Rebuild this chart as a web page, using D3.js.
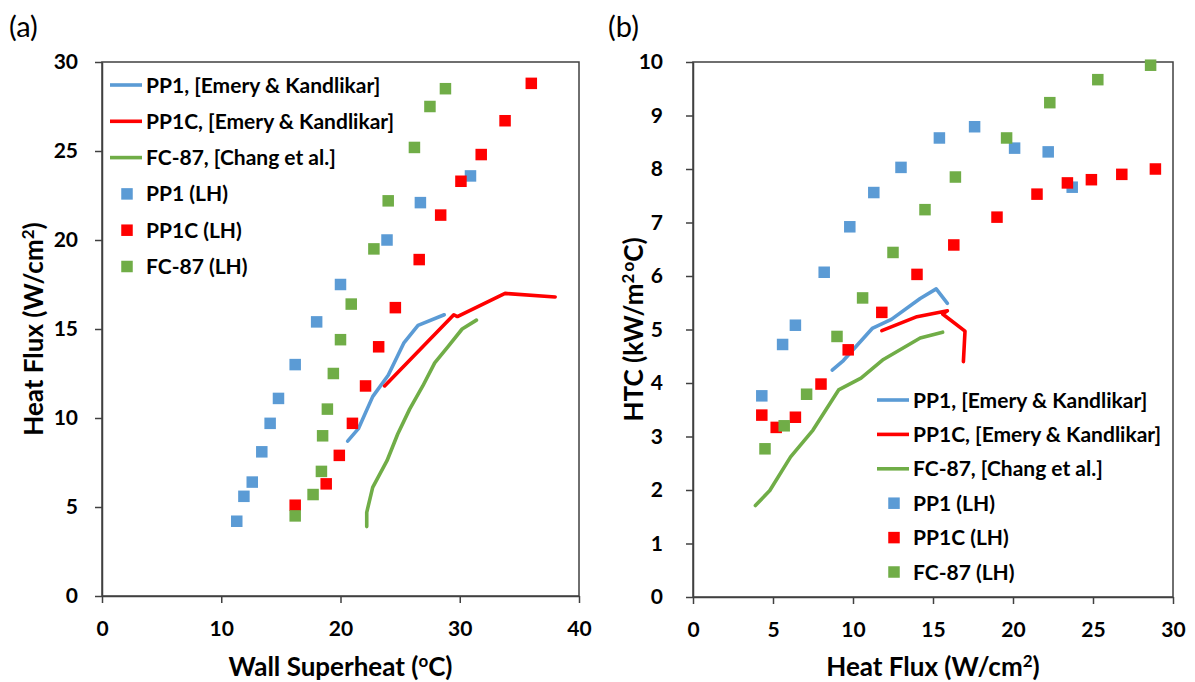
<!DOCTYPE html>
<html>
<head>
<meta charset="utf-8">
<script src="https://cdn.jsdelivr.net/npm/d3@7"></script>
<style>
  body { margin: 0; background: #fff; }
  text { font-family: Lato, "Open Sans", sans-serif; fill: #000; }
</style>
</head>
<body>
<svg id="chart" width="1195" height="682"></svg>
<script>
// ---- Panel (a): heat flux (W/cm2) vs wall superheat (°C) ----
const superheatTicks = [0, 10, 20, 30, 40];
const fluxTicksA = [0, 5, 10, 15, 20, 25, 30];

const pp1CorrA  = [[20.6,8.7],[21.5,9.4],[22.7,11.2],[24.0,12.4],[25.3,14.2],[26.5,15.2],[28.7,15.8]];
const pp1cCorrA = [[23.7,11.8],[29.5,15.8],[29.8,15.7],[33.8,17.0],[38.0,16.8]];
const fc87CorrA = [[22.2,3.9],[22.2,4.7],[22.7,6.1],[23.9,7.6],[24.8,9.1],[25.8,10.5],[26.9,11.8],[27.9,13.1],[29.0,14.0],[30.2,15.0],[31.4,15.5]];

const pp1LabA  = [[11.3,4.2],[11.9,5.6],[12.6,6.4],[13.4,8.1],[14.1,9.7],[14.8,11.1],[16.2,13.0],[18.0,15.4],[20.0,17.5],[23.9,20.0],[26.7,22.1],[30.9,23.6]];
const pp1cLabA = [[16.2,5.1],[18.8,6.3],[19.9,7.9],[21.0,9.7],[22.1,11.8],[23.2,14.0],[24.6,16.2],[26.6,18.9],[28.4,21.4],[30.1,23.3],[31.8,24.8],[33.8,26.7],[36.0,28.8]];
const fc87LabA = [[16.2,4.5],[17.7,5.7],[18.4,7.0],[18.5,9.0],[18.9,10.5],[19.4,12.5],[20.0,14.4],[20.9,16.4],[22.8,19.5],[24.0,22.2],[26.2,25.2],[27.5,27.5],[28.8,28.5]];

// ---- Panel (b): HTC (kW/m2°C) vs heat flux (W/cm2) ----
const fluxTicksB = [0, 5, 10, 15, 20, 25, 30];
const htcTicks = [0, 1, 2, 3, 4, 5, 6, 7, 8, 9, 10];

const pp1CorrB  = [[8.7,4.24],[9.4,4.42],[11.2,5.02],[12.4,5.19],[14.2,5.58],[15.2,5.76],[15.9,5.49]];
const pp1cCorrB = [[11.8,4.98],[14.0,5.24],[15.9,5.35],[15.6,5.29],[17.0,4.97],[16.9,4.40]];
const fc87CorrB = [[3.9,1.71],[4.8,1.99],[6.1,2.62],[7.5,3.12],[9.1,3.87],[10.5,4.09],[11.9,4.44],[14.2,4.84],[15.6,4.95]];

const pp1LabB  = [[4.3,3.76],[5.6,4.72],[6.4,5.08],[8.2,6.07],[9.8,6.92],[11.3,7.56],[13.0,8.03],[15.4,8.58],[17.6,8.79],[20.1,8.39],[22.2,8.32],[23.7,7.66]];
const pp1cLabB = [[4.3,3.40],[5.2,3.17],[6.4,3.36],[8.0,3.98],[9.7,4.62],[11.8,5.32],[14.0,6.03],[16.3,6.58],[19.0,7.10],[21.5,7.53],[23.4,7.74],[24.9,7.80],[26.8,7.90],[28.9,8.00]];
const fc87LabB = [[4.5,2.77],[5.7,3.20],[7.1,3.79],[9.0,4.87],[10.6,5.59],[12.5,6.44],[14.5,7.24],[16.4,7.85],[19.6,8.58],[22.3,9.24],[25.3,9.67],[28.6,9.94]];

// ---- Legend ----
const lineLabels   = ["PP1, [Emery & Kandlikar]", "PP1C, [Emery & Kandlikar]", "FC-87, [Chang et al.]"];
const markerLabels = ["PP1 (LH)", "PP1C (LH)", "FC-87 (LH)"];
const seriesColors = ["#5B9BD5", "#FF0000", "#70AD47"];

const svg = d3.select("#chart");

function drawPanel(opt) {
  const x = d3.scaleLinear().domain(opt.xDomain).range([opt.left, opt.right]);
  const y = d3.scaleLinear().domain(opt.yDomain).range([opt.bottom, opt.top]);
  const g = svg.append("g");

  // plot frame
  g.append("rect")
    .attr("x", opt.left).attr("y", opt.top)
    .attr("width", opt.right - opt.left).attr("height", opt.bottom - opt.top)
    .attr("fill", "none").attr("stroke", "#404040").attr("stroke-width", 1.5);

  const xAxis = g.append("g").attr("transform", `translate(0,${opt.bottom})`)
    .call(d3.axisBottom(x).tickValues(opt.xTicks).tickSize(7).tickSizeOuter(0).tickPadding(18));
  const yAxis = g.append("g").attr("transform", `translate(${opt.left},0)`)
    .call(d3.axisLeft(y).tickValues(opt.yTicks).tickSize(7).tickSizeOuter(0).tickPadding(opt.yPad));
  [xAxis, yAxis].forEach(a => {
    a.select(".domain").attr("stroke", "#404040").attr("stroke-width", 1.5);
    a.selectAll(".tick line").attr("stroke", "#404040").attr("stroke-width", 1.5);
    a.selectAll(".tick text").attr("font-size", 21).attr("font-weight", 700)
      .attr("font-family", "Lato, sans-serif").attr("fill", "#000");
  });

  const line = d3.line().x(d => x(d[0])).y(d => y(d[1]));
  opt.lines.forEach((data, i) => {
    g.append("path").datum(data).attr("d", line)
      .attr("fill", "none").attr("stroke", seriesColors[i])
      .attr("stroke-width", 3.6).attr("stroke-linejoin", "round").attr("stroke-linecap", "round");
  });
  const s = 11.5;
  opt.points.forEach((data, i) => {
    g.append("g").selectAll("rect").data(data).join("rect")
      .attr("x", d => x(d[0]) - s / 2).attr("y", d => y(d[1]) - s / 2)
      .attr("width", s).attr("height", s).attr("fill", seriesColors[i]);
  });

  // legend
  const lg = g.append("g").attr("transform", `translate(${opt.legendX},${opt.legendY})`);
  const step = opt.legendStep;
  lineLabels.forEach((t, i) => {
    lg.append("line").attr("x1", 0).attr("x2", 32).attr("y1", i * step).attr("y2", i * step)
      .attr("stroke", seriesColors[i]).attr("stroke-width", 3.6);
    lg.append("text").attr("x", 36).attr("y", i * step).attr("dy", "0.36em")
      .attr("font-size", 21).attr("font-weight", 700).text(t);
  });
  markerLabels.forEach((t, i) => {
    const yy = (i + 3) * step;
    lg.append("rect").attr("x", 17 - s / 2).attr("y", yy - s / 2).attr("width", s).attr("height", s)
      .attr("fill", seriesColors[i]);
    lg.append("text").attr("x", 36).attr("y", yy).attr("dy", "0.36em")
      .attr("font-size", 21).attr("font-weight", 700).text(t);
  });

  // axis titles
  const xt = g.append("text").attr("x", (opt.left + opt.right) / 2).attr("y", opt.xTitleY)
    .attr("text-anchor", "middle").attr("font-size", 26).attr("font-weight", 700);
  opt.xTitle(xt);
  const yt = g.append("text")
    .attr("transform", `translate(${opt.yTitleX},${(opt.top + opt.bottom) / 2}) rotate(-90)`)
    .attr("text-anchor", "middle").attr("font-size", 26).attr("font-weight", 700);
  opt.yTitle(yt);

  // panel tag
  g.append("text").attr("x", opt.tagX).attr("y", 37).attr("font-size", 29).text(opt.tag);
}

// raised small text for units (cm², °C)
function sup(sel, t, dx = 0) {
  sel.append("tspan").attr("dy", -9).attr("dx", dx).attr("font-size", 17).text(t);
  return sel;
}

drawPanel({
  left: 102, right: 579, top: 62, bottom: 596,
  xDomain: [0, 40], yDomain: [0, 30],
  xTicks: superheatTicks, yTicks: fluxTicksA, yPad: 17,
  lines: [pp1CorrA, pp1cCorrA, fc87CorrA],
  points: [pp1LabA, pp1cLabA, fc87LabA],
  legendX: 110, legendY: 85, legendStep: 36.3,
  xTitleY: 676, yTitleX: 43, tagX: 9, tag: "(a)",
  xTitle: t => {
    t.append("tspan").text("Wall Superheat (");
    sup(t, "o");
    t.append("tspan").attr("dy", 9).text("C)");
  },
  yTitle: t => {
    t.append("tspan").text("Heat Flux (W/cm");
    sup(t, "2");
    t.append("tspan").attr("dy", 9).text(")");
  }
});

drawPanel({
  left: 693, right: 1173, top: 62, bottom: 597,
  xDomain: [0, 30], yDomain: [0, 10],
  xTicks: fluxTicksB, yTicks: htcTicks, yPad: 23,
  lines: [pp1CorrB, pp1cCorrB, fc87CorrB],
  points: [pp1LabB, pp1cLabB, fc87LabB],
  legendX: 877, legendY: 400, legendStep: 34.4,
  xTitleY: 676, yTitleX: 643, tagX: 608, tag: "(b)",
  xTitle: t => {
    t.append("tspan").text("Heat Flux (W/cm");
    sup(t, "2");
    t.append("tspan").attr("dy", 9).text(")");
  },
  yTitle: t => {
    t.append("tspan").text("HTC (kW/m");
    t.append("tspan").attr("dy", -9).attr("font-size", 17).text("2");
    t.append("tspan").attr("dx", 2).attr("font-size", 17).text("o");
    t.append("tspan").attr("dy", 9).text("C)");
  }
});
</script>
</body>
</html>
